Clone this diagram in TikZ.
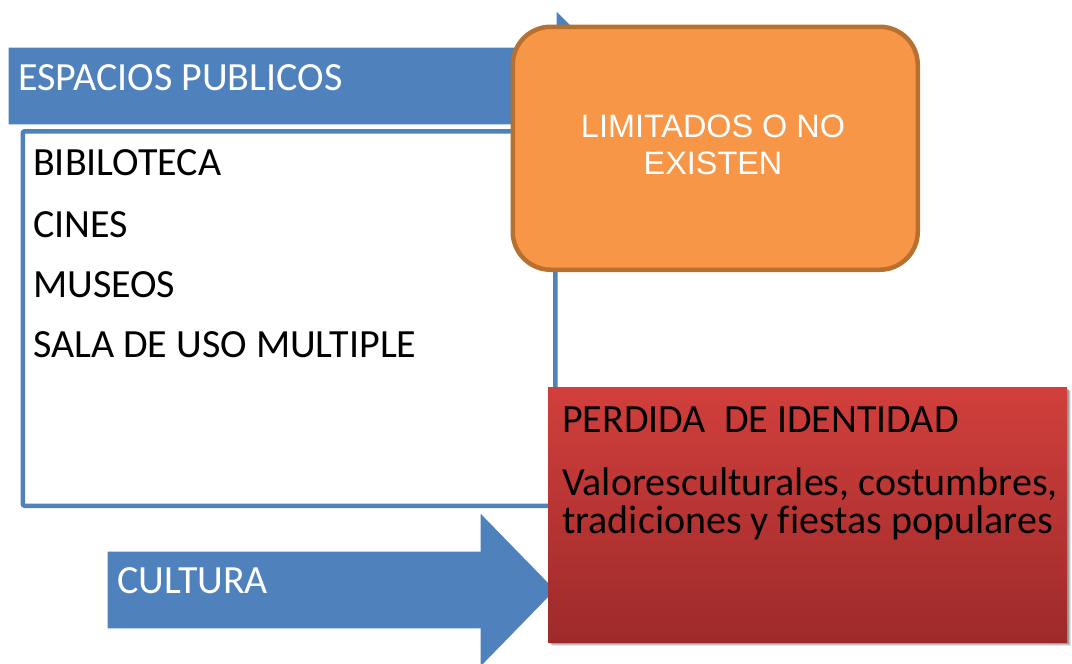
\documentclass[tikz,border=0pt]{standalone}
\usepackage{fontspec}
\setmainfont[Ligatures=NoCommon]{Carlito}
\newfontfamily\arialfont{Liberation Sans}
\usetikzlibrary{positioning}

\definecolor{officeblue}{HTML}{4F81BD}
\definecolor{officeorange}{HTML}{F79646}
\definecolor{orangeedge}{HTML}{B7702F}
\definecolor{redtop}{HTML}{D13F3C}
\definecolor{redbottom}{HTML}{9D2A2A}

\begin{document}
\begin{tikzpicture}[
    x=1pt, y=-1pt,
    blockarrow/.style={fill=officeblue, draw=white, line width=1.2pt},
    listbox/.style={
        rectangle, rounded corners=2pt,
        draw=officeblue, line width=4.5pt, fill=white,
        anchor=north west, inner sep=0pt
    },
    notebox/.style={
        rectangle, rounded corners=38pt,
        draw=orangeedge, line width=4.5pt, fill=officeorange,
        anchor=north west, inner sep=0pt
    },
    lossbox/.style={
        rectangle, top color=redtop, bottom color=redbottom,
        anchor=north west, inner sep=0pt
    },
    label/.style={anchor=base west, inner sep=0pt, font=\fontsize{40}{44}\selectfont},
    whitelabel/.style={label, text=white},
    notelabel/.style={anchor=base, inner sep=0pt, text=white, font=\arialfont\fontsize{32.4}{38}\selectfont}
]
\useasboundingbox (0,0) rectangle (1072,664);

% ============ Top arrow ============
\fill[blockarrow] (8,47) -- (556,47) -- (556,10) -- (632,86) -- (556,162) -- (556,125) -- (8,125) -- cycle;
\node[whitelabel] (espacios) at (18,90) {ESPACIOS PUBLICOS};

% ============ List of places ============
\node[listbox, minimum width=532.5pt, minimum height=374.5pt] (lista) at (20.5,129) {};
\node[label] (biblioteca) at (33,175) {BIBILOTECA};
\node[label] (cines) at (33,237) {CINES};
\node[label] (museos) at (33,297) {MUSEOS};
\node[label] (sala) at (33,357) {SALA DE USO MULTIPLE};

% ============ Bottom arrow ============
\fill[blockarrow] (107,551) -- (480,551) -- (480,512) -- (556,590) -- (480,668) -- (480,629) -- (107,629) -- cycle;
\node[whitelabel] (cultura) at (117,593) {CULTURA};

% ============ Limited spaces ============
\node[notebox, minimum width=405pt, minimum height=243pt] (limitados) at (510.5,24.5) {};
\node[notelabel] (limitadosA) at (713,137) {LIMITADOS O NO};
\node[notelabel] (limitadosB) at (713,174) {EXISTEN};

% ============ Loss of identity ============
\foreach \s/\o in {4/0.10, 3/0.15, 2/0.20} {
    \fill[black, opacity=\o] (548+\s,387+\s) rectangle (1067+\s,642+\s);
}
\node[lossbox, minimum width=519pt, minimum height=255pt] (perdida) at (548,387) {};
\node[label] (identidad) at (562,432) {PERDIDA\ \ DE IDENTIDAD};
\node[label] (valores) at (562,495) {Valoresculturales, costumbres,};
\node[label] (tradiciones) at (562,533) {tradiciones y fiestas populares};

\end{tikzpicture}
\end{document}
